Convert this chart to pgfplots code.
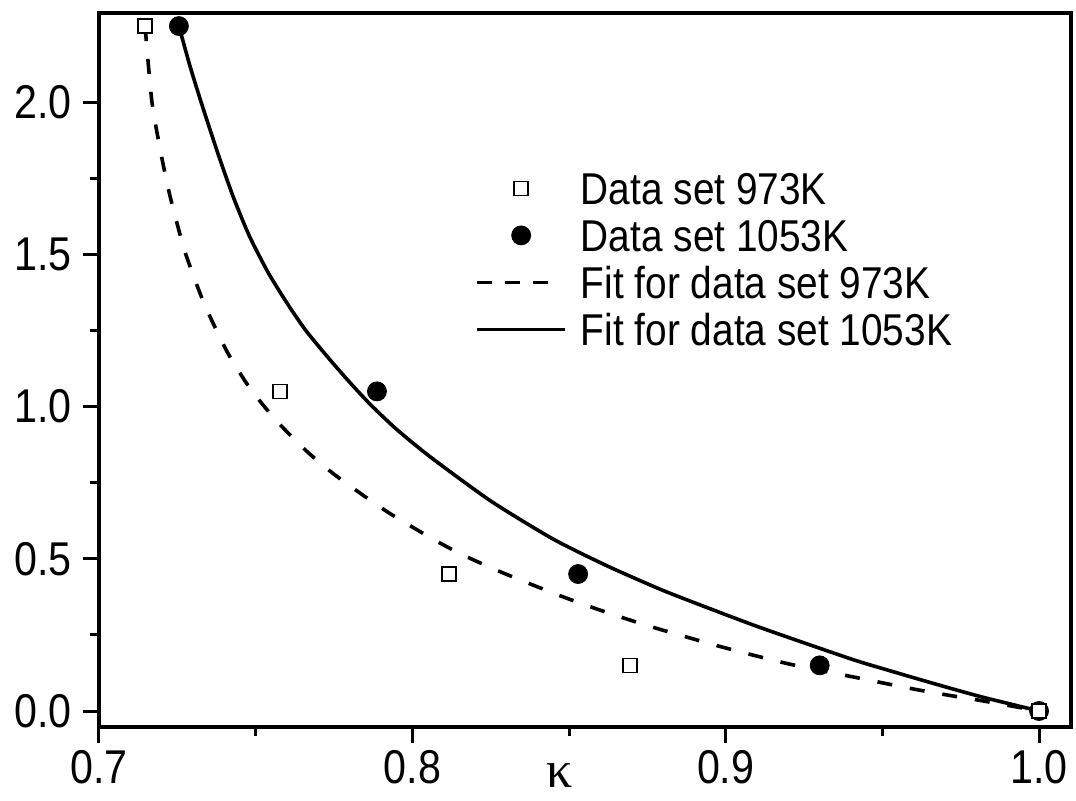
\documentclass[border=0pt]{standalone}
\usepackage{pgfplots}
\pgfplotsset{compat=1.18}
\usepackage{fontspec}
\usepackage{graphicx}
\setmainfont{Liberation Sans}
\newfontfamily\kfont{Liberation Serif}
\newcommand{\nar}[1]{\scalebox{0.87}[1]{#1}}
\pgfplotsset{
  legmark/.style={legend image code/.code={\draw[mark repeat=2,mark phase=2,##1] plot coordinates {(0pt,0pt) (22pt,0pt) (44pt,0pt)};}},
  legdash/.style={legend image code/.code={\draw[##1] (0pt,0pt) -- (36pt,0pt);}},
  legline/.style={legend image code/.code={\draw[##1] (0pt,0pt) -- (44pt,0pt);}},
}
\begin{document}
\begin{tikzpicture}
\begin{axis}[
  scale only axis,
  width=486pt, height=357pt,
  xmin=0.7, xmax=1.0102, ymin=-0.0525, ymax=2.293,
  xtick={0.7,0.8,0.9,1.0},
  ytick={0,0.5,1.0,1.5,2.0},
  minor x tick num=1, minor y tick num=1,
  tick align=outside, xtick pos=left, ytick pos=left,
  major tick length=8pt, minor tick length=4.5pt,
  every tick/.style={black, line width=1.5pt},
  axis line style={line width=2pt},
  /pgf/number format/fixed, /pgf/number format/fixed zerofill,
  /pgf/number format/precision=1, /pgf/number format/assume math mode=true,
  xticklabel={\nar{\pgfmathprintnumber{\tick}}},
  yticklabel={\nar{\pgfmathprintnumber{\tick}}},
  ticklabel style={font=\fontsize{23.7}{28}\selectfont, inner sep=0pt},
  xticklabel style={yshift=-3.5pt},
  yticklabel style={xshift=-5.5pt},
  xlabel={\kfont\fontsize{26}{30}\selectfont κ},
  xlabel style={at={(axis description cs:0.474,0)}, anchor=base, yshift=-30.5pt, inner sep=0pt},
  legend style={draw=none, fill=none, at={(axis description cs:0.3868,0.7829)}, anchor=north west,
    inner sep=0pt, row sep=3.5pt, column sep=7pt, font=\fontsize{22.3}{26}\selectfont,
    nodes={inner sep=0pt, text height=18pt, text depth=2pt}},
  legend cell align=left,
]
\addlegendimage{only marks, mark=square*, mark size=3.5pt, mark options={draw=black, fill=white, line width=0.75pt}, legmark}
\addlegendentry{\nar{Data set 973K}}
\addlegendimage{only marks, mark=*, mark size=4.75pt, mark options={draw=black, fill=black}, legmark}
\addlegendentry{\nar{Data set 1053K}}
\addlegendimage{black, line width=1.8pt, dash pattern=on 7.5pt off 6.5pt, legdash}
\addlegendentry{\nar{Fit for data set 973K}}
\addlegendimage{black, line width=1.8pt, legline}
\addlegendentry{\nar{Fit for data set 1053K}}

\addplot[forget plot, black, line width=1.8pt, dash pattern=on 7.5pt off 9pt, smooth, tension=0.4] coordinates {
(0.7147,2.25) (0.7169,2.00) (0.7200,1.82) (0.7227,1.69) (0.7274,1.51) (0.7335,1.34) (0.7409,1.18)
(0.7482,1.060) (0.7565,0.955) (0.7661,0.855) (0.7760,0.770) (0.7919,0.655) (0.8079,0.557)
(0.8175,0.506) (0.8277,0.459) (0.8382,0.415) (0.8481,0.375) (0.8586,0.336) (0.8688,0.301)
(0.8791,0.268) (0.9000,0.207) (0.9200,0.155) (0.9416,0.110) (0.9512,0.090) (0.9611,0.070)
(0.9716,0.051) (0.9822,0.033) (1.0,0.0)};
\addplot[forget plot, black, line width=1.8pt, smooth, tension=0.4] coordinates {
(0.7255,2.250) (0.7290,2.120) (0.7329,1.990) (0.7380,1.830) (0.7428,1.690) (0.7480,1.560)
(0.7540,1.440) (0.7600,1.340) (0.7660,1.250) (0.7737,1.154) (0.7800,1.080) (0.7865,1.008)
(0.7950,0.925) (0.8057,0.835) (0.8250,0.690) (0.8449,0.565) (0.8621,0.477) (0.8768,0.410)
(0.8854,0.374) (0.9100,0.278) (0.9397,0.172) (0.9502,0.139) (0.9611,0.106) (0.9716,0.075)
(0.9822,0.045) (1.0,0.0)};
\addplot[forget plot, only marks, mark=*, mark size=4.75pt, mark options={draw=black, fill=black}] coordinates {
(0.7255,2.25) (0.7887,1.05) (0.8529,0.45) (0.9300,0.15) (1.0,0.0)};
\addplot[forget plot, only marks, mark=square*, mark size=3.5pt, mark options={draw=black, fill=white, line width=0.75pt}] coordinates {
(0.7147,2.25) (0.7578,1.05) (0.8117,0.45) (0.8695,0.15) (1.0,0.0)};
\coordinate (sw) at (rel axis cs:0,0);
\coordinate (ne) at (rel axis cs:1,1);
\end{axis}
\pgfresetboundingbox
\path[use as bounding box] ([shift={(-49.5pt,-37pt)}]sw) rectangle ([shift={(2.5pt,6.5pt)}]ne);
\end{tikzpicture}
\end{document}
